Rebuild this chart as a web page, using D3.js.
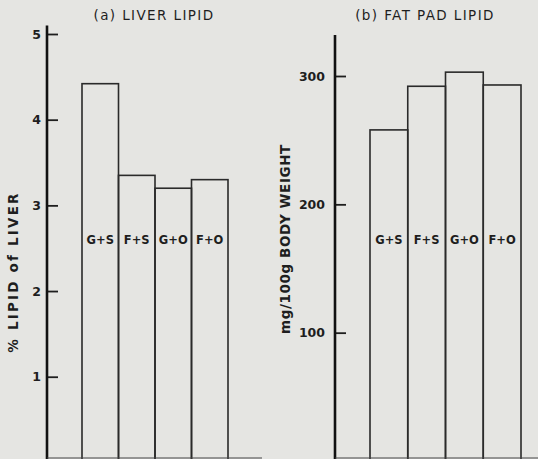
<!DOCTYPE html>
<html><head><meta charset="utf-8">
<script src="https://cdn.jsdelivr.net/npm/d3@7"></script>
<style>
html,body{margin:0;padding:0;background:#e5e5e2;}
svg{display:block;}
text{font-family:"DejaVu Sans",sans-serif;fill:#1e1e1e;}
</style></head>
<body><svg id="c" width="538" height="459"></svg>
<script>
const categories = ["G+S","F+S","G+O","F+O"];
const liverLipid = [4.42, 3.35, 3.20, 3.30];
const fatPadLipid = [258, 292, 303, 293];
const liverTicks = [1,2,3,4,5];
const fatTicks = [100,200,300];

const svg = d3.select("#c");
const H = 459;

function panel(opts){
  const g = svg.append("g");
  const y = d3.scaleLinear().domain([0, opts.max]).range([opts.y0, opts.yMax]);
  const x = d3.scaleBand().domain(categories).range([opts.bx0, opts.bx1]).paddingInner(0).paddingOuter(0);
  g.selectAll("rect.bar").data(opts.values).enter().append("rect")
    .attr("x", (d,i)=>x(categories[i]))
    .attr("width", x.bandwidth())
    .attr("y", d=>y(d))
    .attr("height", d=>y(0)-y(d))
    .attr("fill","none").attr("stroke","#2a2a2a").attr("stroke-width",1.6);
  g.selectAll("text.lab").data(categories).enter().append("text")
    .attr("x", d=>x(d)+x.bandwidth()/2)
    .attr("y", opts.labY)
    .attr("text-anchor","middle")
    .attr("font-size",11.5).attr("font-weight","bold")
    .text(d=>d);
  const ax = d3.axisLeft(y).tickValues(opts.ticks).tickSizeInner(-11).tickSizeOuter(0).tickPadding(opts.pad)
    .tickFormat(d=>d);
  const ag = g.append("g").attr("transform",`translate(${opts.ax},0)`).call(ax);
  ag.select(".domain").remove();
  ag.selectAll(".tick line").attr("stroke","#1e1e1e").attr("stroke-width",1.8);
  ag.selectAll(".tick text").attr("font-size",12.5).attr("font-weight","bold").attr("fill","#1e1e1e")
    .style("font-family","'DejaVu Sans',sans-serif");
  g.append("line").attr("x1",opts.ax).attr("x2",opts.ax)
    .attr("y1", y(opts.axTop)).attr("y2", H)
    .attr("stroke","#111").attr("stroke-width",2.6);
  g.append("line").attr("x1",opts.ax).attr("x2",opts.baseEnd)
    .attr("y1",H-1).attr("y2",H-1).attr("stroke","#444").attr("stroke-width",1.2);
  g.append("text").attr("x",opts.tx).attr("y",20).attr("text-anchor","middle")
    .attr("font-size",13.5).attr("letter-spacing",1.4).text(opts.title);
  g.append("text").attr("transform",`translate(${opts.lx},${opts.ly}) rotate(-90)`)
    .attr("text-anchor","middle").attr("font-size",13.5).attr("font-weight","bold")
    .attr("letter-spacing",opts.ls)
    .text(opts.ylabel);
}

panel({max:5, y0:462.4, yMax:34, values:liverLipid, ticks:liverTicks, bx0:82, bx1:228,
  ax:47, axTop:5.1, pad:6, labY:244, baseEnd:262, tx:154, title:"(a) LIVER LIPID",
  lx:18, ly:272, ls:2.2, ylabel:"% LIPID of LIVER"});
panel({max:300, y0:461, yMax:76, values:fatPadLipid, ticks:fatTicks, bx0:370, bx1:521,
  ax:335, axTop:332, pad:10, labY:244, baseEnd:538, tx:425, title:"(b) FAT PAD LIPID",
  lx:290, ly:239, ls:0.6, ylabel:"mg/100g BODY WEIGHT"});
</script></body></html>
